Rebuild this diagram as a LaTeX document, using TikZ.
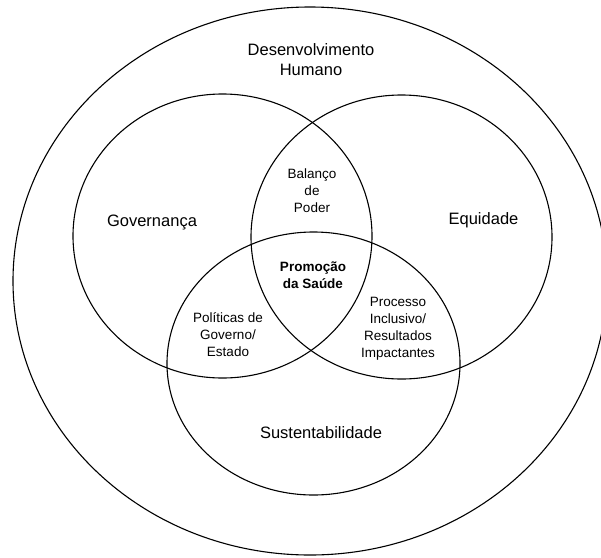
\documentclass[tikz,border=0pt]{standalone}
\usepackage{fontspec}
\setmainfont{Liberation Sans}
\begin{document}
\begin{tikzpicture}[x=1pt,y=-1pt,
  ring/.style={draw=black,line width=1.1pt},
  biglabel/.style={align=center,font=\fontsize{16.5}{20}\selectfont},
  smalllabel/.style={align=center,font=\fontsize{13.5}{17}\selectfont},
  boldlabel/.style={align=center,font=\fontsize{13.5}{16.5}\selectfont\bfseries}]
  \useasboundingbox (0,0) rectangle (601,557);
  \clip (0,0) rectangle (601,557);
  \fill[white] (0,0) rectangle (601,557);

  % centres of the four rings
  \coordinate (outer) at (310,281);
  \coordinate (gov)   at (222.5,236);
  \coordinate (equ)   at (401.5,237);
  \coordinate (sus)   at (313.5,363.5);

  \draw[ring] (outer) ellipse [x radius=297, y radius=274];
  \draw[ring] (gov)   ellipse [x radius=149.5, y radius=142];
  \draw[ring] (equ)   ellipse [x radius=150.5, y radius=142];
  \draw[ring] (sus)   ellipse [x radius=146.5, y radius=131.5];

  % labels
  \node[biglabel]   (dh)   at (311,60)    {Desenvolvimento\\Humano};
  \node[biglabel]   (govl) at (152,222)   {Governança};
  \node[biglabel]   (equl) at (483.5,220) {Equidade};
  \node[biglabel]   (susl) at (321,433)   {Sustentabilidade};
  \node[smalllabel] (bal)  at (312,191)   {Balanço\\de\\Poder};
  \node[boldlabel]  (ps)   at (313,275)   {Promoção\\da Saúde};
  \node[smalllabel] (pol)  at (228,335)   {Políticas de\\Governo/\\Estado};
  \node[smalllabel] (proc) at (398,328.5) {Processo\\Inclusivo/\\Resultados\\Impactantes};
\end{tikzpicture}
\end{document}
